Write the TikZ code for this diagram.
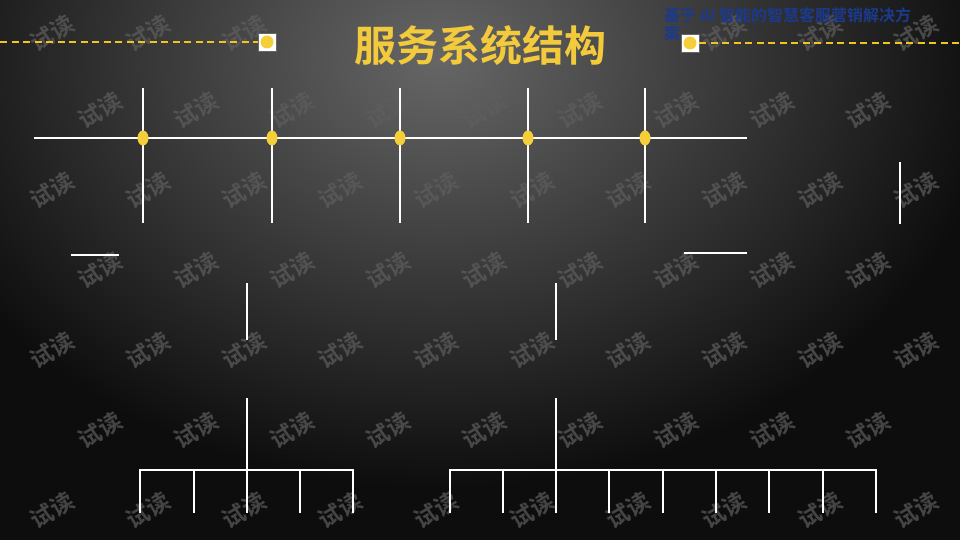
\documentclass[tikz,border=0pt]{standalone}
\usepackage{fontspec}
\newfontfamily\cjk{Noto Sans CJK SC}
\newfontfamily\cjkb{Noto Sans CJK SC Bold}
\definecolor{gold}{HTML}{F3CA3C}
\definecolor{dotyel}{HTML}{F5CF3A}
\definecolor{dashyel}{HTML}{F2C41E}
\definecolor{navy}{HTML}{1C3A8C}
\definecolor{wm}{HTML}{5E5E5E}
\usetikzlibrary{shapes.geometric}
\tikzset{
  wire/.style={draw=white, line width=2pt},
  junction/.style={ellipse, fill=dotyel, minimum width=11pt, minimum height=15pt, inner sep=0pt},
  marker/.style={draw=black!60, fill=white, minimum size=18pt, inner sep=0pt, line width=0.6pt},
  wmark/.style={text=wm, font=\cjkb\fontsize{23}{23}\selectfont, rotate=30, opacity=0.7},
  dashline/.style={dashyel, line width=1.8pt, dash pattern=on 7pt off 4.5pt},
}
\begin{document}
\begin{tikzpicture}[x=1pt,y=-1pt]
\useasboundingbox (0,0) rectangle (960,540);
% background
\fill[black!95] (0,0) rectangle (960,540);
\begin{scope}
\clip (0,0) rectangle (960,540);
\shade[inner color=black!60, outer color=black!95] (440,60) ellipse (560 and 430);
\end{scope}
% watermarks
\foreach \xx in {52,148,244,724,820,916}{\node[wmark] (wa\xx) at (\xx,33) {试读};}
\foreach \yy in {190,350,510}{\foreach \xx in {52,148,...,960}{\node[wmark] (w\xx-\yy) at (\xx,\yy) {试读};}}
\foreach \yy in {110,270,430}{\foreach \xx in {100,196,...,960}{\node[wmark] (w\xx-\yy) at (\xx,\yy) {试读};}}
% header
\node[marker] (mL) at (267,42) {};
\node[marker] (mR) at (690,43) {};
\fill[dotyel] (mL) circle (6.5);
\fill[dotyel] (mR) circle (6.5);
\coordinate (dL) at (0,42);
\coordinate (dR) at (960,43);
\draw[dashline] (dL) -- (mL.west);
\draw[dashline] (mR.east) -- (dR);
\node[text=gold, font=\cjkb\fontsize{42}{42}\selectfont, inner sep=0pt] (title) at (480,45) {服务系统结构};
\node[text=navy, font=\cjkb\fontsize{16}{18}\selectfont, anchor=north west, align=left, inner sep=0pt] (sub) at (664,7) {基于 AI 智能的智慧客服营销解决方\\案};
% top bus
\coordinate (b0) at (34,138);
\coordinate (b6) at (747,138);
\draw[wire] (b0) -- (b6);
\foreach \i/\x in {1/143,2/272,3/400,4/528,5/645}{
  \coordinate (t\i) at (\x,88);
  \coordinate (u\i) at (\x,223);
  \draw[wire] (t\i) -- (u\i);
  \node[junction] (j\i) at (\x,138) {};
}
% stray lines
\coordinate (s1a) at (900,162); \coordinate (s1b) at (900,224);
\draw[wire] (s1a) -- (s1b);
\coordinate (h1a) at (71,255); \coordinate (h1b) at (119,255);
\draw[wire] (h1a) -- (h1b);
\coordinate (h2a) at (684,253); \coordinate (h2b) at (747,253);
\draw[wire] (h2a) -- (h2b);
\coordinate (v1a) at (247,283); \coordinate (v1b) at (247,340);
\draw[wire] (v1a) -- (v1b);
\coordinate (v2a) at (556,283); \coordinate (v2b) at (556,340);
\draw[wire] (v2a) -- (v2b);
% left tree
\coordinate (lr) at (247,398);
\coordinate (lb) at (247,470);
\draw[wire] (lr) -- (lb);
\coordinate (lbl) at (140,470); \coordinate (lbr) at (353,470);
\draw[wire, line cap=rect] (lbl) -- (lbr);
\foreach \i/\x in {1/140,2/194,3/247,4/300,5/353}{
  \coordinate (la\i) at (\x,470); \coordinate (lz\i) at (\x,513);
  \draw[wire] (la\i) -- (lz\i);
}
% right tree
\coordinate (rr) at (556,398);
\coordinate (rb) at (556,470);
\draw[wire] (rr) -- (rb);
\coordinate (rbl) at (450,470); \coordinate (rbr) at (876,470);
\draw[wire, line cap=rect] (rbl) -- (rbr);
\foreach \i/\x in {1/450,2/503,3/556,4/609,5/663,6/716,7/769,8/823,9/876}{
  \coordinate (ra\i) at (\x,470); \coordinate (rz\i) at (\x,513);
  \draw[wire] (ra\i) -- (rz\i);
}
\end{tikzpicture}
\end{document}
